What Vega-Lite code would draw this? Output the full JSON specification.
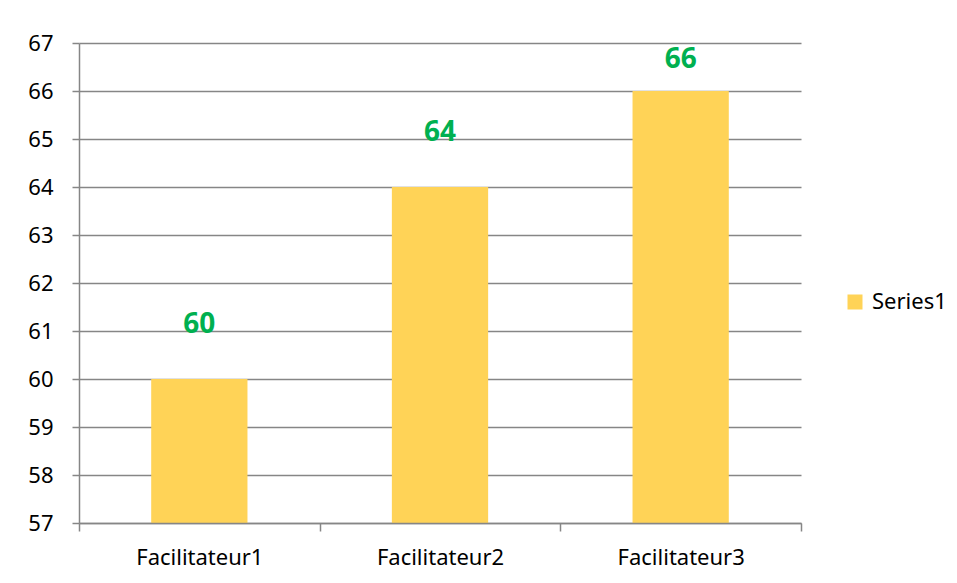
{
  "$schema": "https://vega.github.io/schema/vega-lite/v6.json",
  "width": 722,
  "height": 480,
  "autosize": {"type": "none"},
  "padding": {"left": 79, "top": 43, "right": 156, "bottom": 60},
  "background": "white",
  "config": {
    "view": {"stroke": null},
    "font": "Noto Sans"
  },
  "data": {
    "values": [
      {"category": "Facilitateur1", "value": 60, "series": "Series1"},
      {"category": "Facilitateur2", "value": 64, "series": "Series1"},
      {"category": "Facilitateur3", "value": 66, "series": "Series1"}
    ]
  },
  "encoding": {
    "x": {
      "field": "category",
      "type": "nominal",
      "sort": null,
      "scale": {"paddingInner": 0, "paddingOuter": 0},
      "axis": {
        "title": null,
        "labelAngle": 0,
        "labelFont": "Noto Sans",
        "labelFontSize": 22,
        "labelColor": "#000000",
        "labelPadding": 16,
        "domainColor": "#868686",
        "domainWidth": 1.5,
        "tickColor": "#868686",
        "tickWidth": 1.5,
        "tickSize": 8,
        "tickBand": "extent",
        "grid": false,
        "zindex": 1
      }
    },
    "y": {
      "field": "value",
      "type": "quantitative",
      "scale": {"domain": [57, 67], "zero": false, "nice": false},
      "axis": {
        "title": null,
        "values": [57, 58, 59, 60, 61, 62, 63, 64, 65, 66, 67],
        "labelFont": "Noto Sans",
        "labelFontSize": 22,
        "labelColor": "#000000",
        "labelPadding": 19,
        "domainColor": "#868686",
        "domainWidth": 1.5,
        "tickColor": "#868686",
        "tickWidth": 1.5,
        "tickSize": 7,
        "grid": true,
        "gridColor": "#868686",
        "gridWidth": 1.5
      }
    }
  },
  "layer": [
    {
      "mark": {"type": "bar", "color": "#FFD357", "clip": true, "width": {"band": 0.4}},
      "encoding": {
        "color": {
          "field": "series",
          "type": "nominal",
          "scale": {"range": ["#FFD357"]},
          "legend": {
            "title": null,
            "orient": "none",
            "legendX": 765,
            "legendY": 248,
            "symbolType": "square",
            "symbolSize": 225,
            "symbolStrokeWidth": 0,
            "labelFont": "Noto Sans",
            "labelFontSize": 22,
            "labelColor": "#000000",
            "labelOffset": 6
          }
        }
      }
    },
    {
      "transform": [{"filter": "datum.value < 66"}],
      "mark": {
        "type": "text",
        "color": "#00B050",
        "fontWeight": "bold",
        "fontSize": 28,
        "font": "Noto Sans",
        "baseline": "middle",
        "align": "center",
        "dy": -54
      },
      "encoding": {
        "text": {"field": "value", "type": "quantitative"}
      }
    },
    {
      "transform": [{"filter": "datum.value >= 66"}],
      "mark": {
        "type": "text",
        "color": "#00B050",
        "fontWeight": "bold",
        "fontSize": 28,
        "font": "Noto Sans",
        "baseline": "middle",
        "align": "center",
        "dy": -31
      },
      "encoding": {
        "text": {"field": "value", "type": "quantitative"}
      }
    }
  ]
}
